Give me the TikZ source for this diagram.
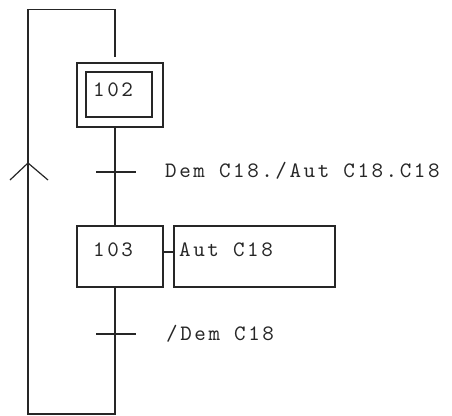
\documentclass[tikz,border=0pt]{standalone}
\usepackage{fontspec}
\newfontfamily\codefont{lmmono10-regular.otf}[LetterSpace=11.6]
\begin{document}
\begin{tikzpicture}[x=1pt,y=-1pt,
    line/.style={line width=1.2pt,draw=black!85},
    stepbox/.style={line, rectangle, inner sep=0pt},
    txt/.style={font=\codefont\fontsize{22}{24}\selectfont, text=black!85, inner sep=0pt, anchor=base west}]
  \useasboundingbox (0,0) rectangle (452,415);

  % guide coordinates for the main spine and the return loop
  \coordinate (spine) at (115,0);
  \coordinate (loopl) at (28,0);
  \coordinate (top) at (115,9.5);
  \coordinate (bot) at (115,414);
  \coordinate (in102) at (115,57);

  % initial step 102 (double frame)
  \node[stepbox, minimum width=86pt, minimum height=64pt] (s102) at (120,95) {};
  \node[stepbox, minimum width=66pt, minimum height=45pt] (s102i) at (119,94.5) {};
  \node[txt] (l102) at (93,96) {102};

  % step 103 with its action
  \node[stepbox, minimum width=86pt, minimum height=61pt] (s103) at (120,256.5) {};
  \node[stepbox, minimum width=161pt, minimum height=61pt] (a103) at (254.5,256.5) {};
  \node[txt] (l103) at (93,256) {103};
  \node[txt] (la103) at (179,256) {Aut C18};
  \draw[line] (s103.east |- 0,252) -- (a103.west |- 0,252);

  % transitions
  \coordinate (t1) at (115,172);
  \coordinate (t2) at (115,334);
  \draw[line] ([xshift=-19pt]t1) -- ([xshift=21pt]t1);
  \draw[line] ([xshift=-19pt]t2) -- ([xshift=21pt]t2);
  \node[txt] (c1) at (165,177) {Dem C18./Aut C18.C18};
  \node[txt] (c2) at (166,340) {/Dem C18};

  % links along the spine
  \draw[line] (s102.south -| spine) -- (s103.north -| spine);

  % return loop from the last transition back to step 102
  \draw[line] (s103.south -| spine) -- (bot) -- (bot -| loopl) -- (top -| loopl) -- (top) -- (in102);

  % upward direction mark on the loop
  \coordinate (arr) at (28,163);
  \draw[line] ([shift={(-18,17)}]arr) -- (arr) -- ([shift={(20,17)}]arr);
\end{tikzpicture}
\end{document}
